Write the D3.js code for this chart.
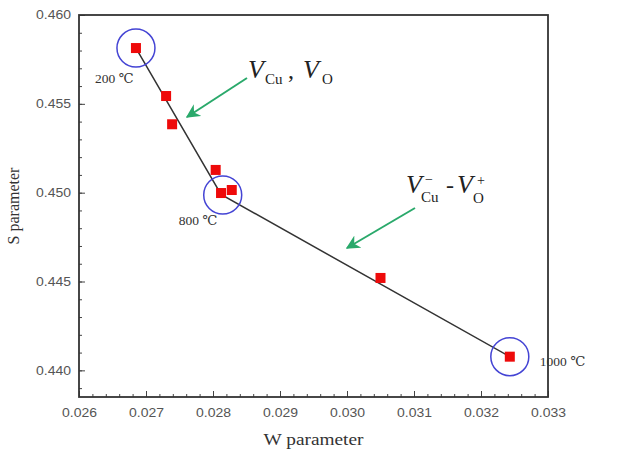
<!DOCTYPE html>
<html>
<head>
<meta charset="utf-8">
<script src="https://cdn.jsdelivr.net/npm/d3@7"></script>
<style>
body{margin:0;background:#fff;}
svg{display:block;}
.tick text{font-family:"Liberation Sans",Arial,sans-serif;font-size:12px;fill:#555;}
</style>
</head>
<body>
<svg id="chart"></svg>
<script>
// measured points (W, S)
let wValues=[0.02685,0.02730,0.02739,0.02804,0.02812,0.02828,0.03050,0.03243];
let sValues=[0.45814,0.45544,0.45385,0.45128,0.44998,0.45015,0.44520,0.44077];
// guide line through the data
let lineW=[0.02685,0.02812,0.03243];
let lineS=[0.45814,0.44990,0.44077];
// annealing temperature circles
let circleW=[0.02685,0.028145,0.03243];
let circleS=[0.45814,0.44987,0.44077];
let tempLabels=['200 \u2103','800 \u2103','1000 \u2103'];
let xTicks=[0.026,0.027,0.028,0.029,0.030,0.031,0.032,0.033];
let yTicks=[0.440,0.445,0.450,0.455,0.460];

let width=620;
let height=459;
let padLeft=79,padRight=548,padTop=15,padBottom=397;

let svg=d3.select('#chart').attr('width',width).attr('height',height);

let xScale=d3.scaleLinear().domain([0.026,0.033]).range([padLeft,padRight]);
let yScale=d3.scaleLinear().domain([0.4385,0.460]).range([padBottom,padTop]);

// minor ticks
let xMinor=d3.range(0,36).map(i=>+(0.026+i*0.0002).toFixed(4));
let yMinor=d3.range(0,22).map(i=>+(0.439+i*0.001).toFixed(3));

svg.append('g')
    .attr('transform','translate(0,'+padBottom+')')
    .call(d3.axisBottom(xScale).tickValues(xMinor).tickSizeInner(-3).tickSizeOuter(0).tickFormat(''))
    .call(g=>g.select('.domain').remove())
    .selectAll('line').attr('stroke','#444');
svg.append('g')
    .attr('transform','translate('+padLeft+',0)')
    .call(d3.axisLeft(yScale).tickValues(yMinor).tickSizeInner(-3).tickSizeOuter(0).tickFormat(''))
    .call(g=>g.select('.domain').remove())
    .selectAll('line').attr('stroke','#444');

let xAxis=svg.append('g')
    .attr('transform','translate(0,'+padBottom+')')
    .call(d3.axisBottom(xScale).tickValues(xTicks).tickSizeInner(-6).tickSizeOuter(0).tickPadding(11).tickFormat(d3.format('.3f')));
xAxis.select('.domain').remove();
xAxis.selectAll('line').attr('stroke','#444');

let yAxis=svg.append('g')
    .attr('transform','translate('+padLeft+',0)')
    .call(d3.axisLeft(yScale).tickValues(yTicks).tickSizeInner(-6).tickSizeOuter(0).tickPadding(8).tickFormat(d3.format('.3f')));
yAxis.select('.domain').remove();
yAxis.selectAll('line').attr('stroke','#444');

// the source picture is a bit wider than tall, so stretch the tick labels
svg.selectAll('.tick text')
    .attr('textLength',35)
    .attr('lengthAdjust','spacingAndGlyphs');

// frame
svg.append('rect')
    .attr('x',padLeft).attr('y',padTop)
    .attr('width',padRight-padLeft).attr('height',padBottom-padTop)
    .attr('fill','none').attr('stroke','#333').attr('stroke-width',1.8);

// axis titles
svg.append('text')
    .attr('x',(padLeft+padRight)/2).attr('y',445)
    .attr('text-anchor','middle')
    .attr('textLength',100).attr('lengthAdjust','spacingAndGlyphs')
    .style('font-family','"Liberation Serif","Times New Roman",serif')
    .style('font-size','16px').attr('fill','#333')
    .text('W parameter');
svg.append('text')
    .attr('transform','translate(19,'+((padTop+padBottom)/2)+') rotate(-90)')
    .attr('text-anchor','middle')
    .style('font-family','"Liberation Serif","Times New Roman",serif')
    .style('font-size','16px').attr('fill','#333')
    .text('S parameter');

// guide line
let line=d3.line().x(d=>xScale(d[0])).y(d=>yScale(d[1]));
svg.append('path')
    .datum(lineW.map((w,i)=>[w,lineS[i]]))
    .attr('d',line)
    .attr('fill','none').attr('stroke','#333').attr('stroke-width',1.5);

// points
let sq=10;
svg.selectAll('rect.pt')
    .data(wValues.map((w,i)=>[w,sValues[i]]))
    .enter().append('rect')
    .attr('class','pt')
    .attr('x',d=>xScale(d[0])-sq/2)
    .attr('y',d=>yScale(d[1])-sq/2)
    .attr('width',sq).attr('height',sq)
    .attr('fill','#ee0a0a');

// circles
svg.selectAll('circle.ring')
    .data(circleW.map((w,i)=>[w,circleS[i]]))
    .enter().append('circle')
    .attr('class','ring')
    .attr('cx',d=>xScale(d[0]))
    .attr('cy',d=>yScale(d[1]))
    .attr('r',19)
    .attr('fill','none').attr('stroke','#4444d4').attr('stroke-width',1.5);

// temperature labels
let labelOffsets=[[-41,35],[-44,30],[30,9]];
svg.selectAll('text.temp')
    .data(tempLabels)
    .enter().append('text')
    .attr('class','temp')
    .attr('x',(d,i)=>xScale(circleW[i])+labelOffsets[i][0])
    .attr('y',(d,i)=>yScale(circleS[i])+labelOffsets[i][1])
    .style('font-family','"Liberation Serif","DejaVu Serif",serif')
    .style('font-size','13.5px').attr('fill','#333')
    .text(d=>d);

// arrows
let defs=svg.append('defs');
defs.append('marker')
    .attr('id','head').attr('viewBox','0 0 10 10')
    .attr('refX',9).attr('refY',5)
    .attr('markerWidth',7).attr('markerHeight',7)
    .attr('orient','auto')
    .append('path').attr('d','M0,0 L10,5 L0,10 L3,5 Z').attr('fill','#2aa96b');

let arrows=[[247,78,187,117],[415,208,347,248]];
svg.selectAll('line.arrow')
    .data(arrows)
    .enter().append('line')
    .attr('class','arrow')
    .attr('x1',d=>d[0]).attr('y1',d=>d[1])
    .attr('x2',d=>d[2]).attr('y2',d=>d[3])
    .attr('stroke','#2aa96b').attr('stroke-width',2)
    .attr('marker-end','url(#head)');

// annotation texts
let serif='"Liberation Serif","Times New Roman",serif';
let t1=svg.append('g').style('font-family',serif).attr('fill','#222');
t1.append('text').attr('x',248).attr('y',78).style('font-style','italic').style('font-size','26px').text('V');
t1.append('text').attr('x',265).attr('y',84).style('font-size','15px').text('Cu');
t1.append('text').attr('x',288).attr('y',78).style('font-size','24px').text(',');
t1.append('text').attr('x',303).attr('y',78).style('font-style','italic').style('font-size','26px').text('V');
t1.append('text').attr('x',322).attr('y',84).style('font-size','15px').text('O');

let t2=svg.append('g').style('font-family',serif).attr('fill','#222');
t2.append('text').attr('x',406).attr('y',193).style('font-style','italic').style('font-size','26px').text('V');
t2.append('text').attr('x',425).attr('y',184).style('font-size','14px').text('\u2212');
t2.append('text').attr('x',421).attr('y',202).style('font-size','15px').text('Cu');
t2.append('text').attr('x',446).attr('y',193).style('font-size','24px').text('-');
t2.append('text').attr('x',457).attr('y',193).style('font-style','italic').style('font-size','26px').text('V');
t2.append('text').attr('x',477).attr('y',185).style('font-size','14px').text('+');
t2.append('text').attr('x',473).attr('y',203).style('font-size','15px').text('O');
</script>
</body>
</html>
